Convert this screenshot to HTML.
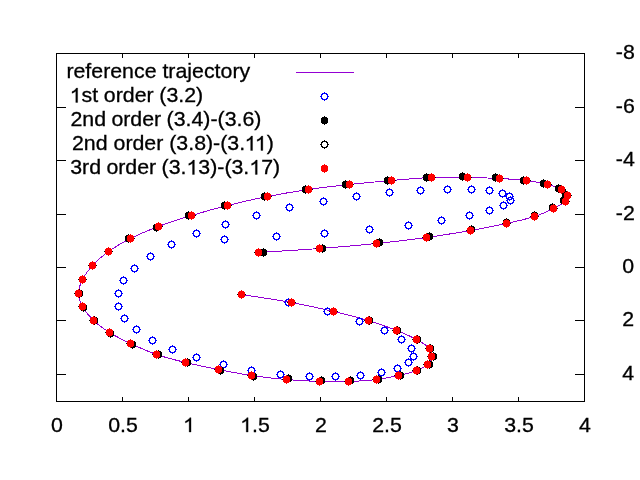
<!DOCTYPE html>
<html><head><meta charset="utf-8"><title>plot</title>
<style>html,body{margin:0;padding:0;background:#fff;overflow:hidden}svg{display:block;will-change:transform}text{font-family:"Liberation Sans",sans-serif;font-size:20.8px;fill:#000;stroke:#000;stroke-width:0.3px}.h{fill:none;stroke:none}</style>
</head><body>
<svg width="640" height="480" viewBox="0 0 640 480">
<defs>
<g id="f" shape-rendering="crispEdges"><rect x="-3" y="-2" width="7" height="5"/><rect x="-2" y="-3" width="5" height="7"/><rect x="0" y="-4" width="1" height="9"/></g>
<g id="o" shape-rendering="crispEdges"><rect x="0" y="-4" width="1" height="1"/><rect x="-2" y="-3" width="5" height="1"/><rect x="-3" y="-2" width="2" height="1"/><rect x="2" y="-2" width="2" height="1"/><rect x="-3" y="-1" width="1" height="1"/><rect x="3" y="-1" width="1" height="1"/><rect x="-4" y="0" width="2" height="1"/><rect x="3" y="0" width="2" height="1"/><rect x="-3" y="1" width="1" height="1"/><rect x="3" y="1" width="1" height="1"/><rect x="-3" y="2" width="2" height="1"/><rect x="2" y="2" width="2" height="1"/><rect x="-2" y="3" width="5" height="1"/><rect x="0" y="4" width="1" height="1"/></g>
</defs>
<rect x="0" y="0" width="640" height="480" fill="#fff"/>
<g fill="#000" shape-rendering="crispEdges">
<rect x="56" y="53" width="529" height="1"/>
<rect x="56" y="401" width="529" height="1"/>
<rect x="56" y="53" width="1" height="349"/>
<rect x="584" y="53" width="1" height="349"/>
<rect x="56" y="397" width="1" height="5"/>
<rect x="56" y="53" width="1" height="5"/>
<rect x="122" y="397" width="1" height="5"/>
<rect x="122" y="53" width="1" height="5"/>
<rect x="188" y="397" width="1" height="5"/>
<rect x="188" y="53" width="1" height="5"/>
<rect x="254" y="397" width="1" height="5"/>
<rect x="254" y="53" width="1" height="5"/>
<rect x="320" y="397" width="1" height="5"/>
<rect x="320" y="53" width="1" height="5"/>
<rect x="386" y="397" width="1" height="5"/>
<rect x="386" y="53" width="1" height="5"/>
<rect x="452" y="397" width="1" height="5"/>
<rect x="452" y="53" width="1" height="5"/>
<rect x="518" y="397" width="1" height="5"/>
<rect x="518" y="53" width="1" height="5"/>
<rect x="584" y="397" width="1" height="5"/>
<rect x="584" y="53" width="1" height="5"/>
<rect x="56" y="53" width="10" height="1"/>
<rect x="575" y="53" width="10" height="1"/>
<rect x="56" y="107" width="10" height="1"/>
<rect x="575" y="107" width="10" height="1"/>
<rect x="56" y="160" width="10" height="1"/>
<rect x="575" y="160" width="10" height="1"/>
<rect x="56" y="214" width="10" height="1"/>
<rect x="575" y="214" width="10" height="1"/>
<rect x="56" y="267" width="10" height="1"/>
<rect x="575" y="267" width="10" height="1"/>
<rect x="56" y="320" width="10" height="1"/>
<rect x="575" y="320" width="10" height="1"/>
<rect x="56" y="374" width="10" height="1"/>
<rect x="575" y="374" width="10" height="1"/>
</g>
<text class="t" transform="translate(57.0,431.8) scale(1.026,1)" text-anchor="middle">0</text>
<text class="t" transform="translate(123.0,431.8) scale(1.026,1)" text-anchor="middle">0.5</text>
<text class="t" transform="translate(189.0,431.8) scale(1.026,1)" text-anchor="middle"><tspan class="h">1</tspan></text>
<text class="t" transform="translate(255.0,431.8) scale(1.026,1)" text-anchor="middle"><tspan class="h">1</tspan>.5</text>
<text class="t" transform="translate(321.0,431.8) scale(1.026,1)" text-anchor="middle">2</text>
<text class="t" transform="translate(387.0,431.8) scale(1.026,1)" text-anchor="middle">2.5</text>
<text class="t" transform="translate(453.0,431.8) scale(1.026,1)" text-anchor="middle">3</text>
<text class="t" transform="translate(519.0,431.8) scale(1.026,1)" text-anchor="middle">3.5</text>
<text class="t" transform="translate(585.0,431.8) scale(1.026,1)" text-anchor="middle">4</text>
<text class="t" transform="translate(634.8,58.9) scale(1.026,1)" text-anchor="end">-8</text>
<text class="t" transform="translate(634.8,112.9) scale(1.026,1)" text-anchor="end">-6</text>
<text class="t" transform="translate(634.8,165.9) scale(1.026,1)" text-anchor="end">-4</text>
<text class="t" transform="translate(634.8,219.9) scale(1.026,1)" text-anchor="end">-2</text>
<text class="t" transform="translate(634.0,272.9) scale(1.026,1)" text-anchor="end">0</text>
<text class="t" transform="translate(634.0,325.9) scale(1.026,1)" text-anchor="end">2</text>
<text class="t" transform="translate(634.0,379.9) scale(1.026,1)" text-anchor="end">4</text>
<text class="t" style="word-spacing:0.00px" transform="translate(66.4,78.2) scale(1.026,1)">reference trajectory</text>
<text class="t" style="word-spacing:-0.25px" transform="translate(69.7,102.2) scale(1.026,1)"><tspan class="h">1</tspan>st order (3.2)</text>
<text class="t" style="word-spacing:-0.50px" transform="translate(70.4,126.2) scale(1.026,1)">2nd order (3.4)-(3.6)</text>
<text class="t" style="word-spacing:0.00px" transform="translate(72.0,150.2) scale(1.026,1)">2nd order (3.8)-(3.<tspan class="h" dx="-0.5">1</tspan><tspan class="h" dx="-1.55">1</tspan>)</text>
<text class="t" style="word-spacing:-0.55px" transform="translate(70.2,174.2) scale(1.026,1)">3rd order (3.<tspan class="h">1</tspan>3)-(3.<tspan class="h">1</tspan>7)</text>
<g fill="#000" stroke="#000" stroke-width="30">
<path transform="translate(183.07,432.05) scale(0.010420,-0.009814)" d="M763 0H583V1147Q518 1085 412.5 1023T223 930V1104Q373 1175 485.5 1275T645 1469H763Z"/>
<path transform="translate(240.16,432.05) scale(0.010420,-0.009814)" d="M763 0H583V1147Q518 1085 412.5 1023T223 930V1104Q373 1175 485.5 1275T645 1469H763Z"/>
<path transform="translate(69.70,102.45) scale(0.010420,-0.009814)" d="M763 0H583V1147Q518 1085 412.5 1023T223 930V1104Q373 1175 485.5 1275T645 1469H763Z"/>
<path transform="translate(244.59,150.45) scale(0.010420,-0.009814)" d="M763 0H583V1147Q518 1085 412.5 1023T223 930V1104Q373 1175 485.5 1275T645 1469H763Z"/>
<path transform="translate(254.87,150.45) scale(0.010420,-0.009814)" d="M763 0H583V1147Q518 1085 412.5 1023T223 930V1104Q373 1175 485.5 1275T645 1469H763Z"/>
<path transform="translate(186.44,174.45) scale(0.010420,-0.009814)" d="M763 0H583V1147Q518 1085 412.5 1023T223 930V1104Q373 1175 485.5 1275T645 1469H763Z"/>
<path transform="translate(249.28,174.45) scale(0.010420,-0.009814)" d="M763 0H583V1147Q518 1085 412.5 1023T223 930V1104Q373 1175 485.5 1275T645 1469H763Z"/>
</g>
<path d="M241.50 294.50 C249.83 295.83 276.17 299.67 291.50 302.50 C306.83 305.33 320.67 308.50 333.50 311.50 C346.33 314.50 358.00 317.33 368.50 320.50 C379.00 323.67 388.50 327.33 396.50 330.50 C404.50 333.67 411.00 336.50 416.50 339.50 C422.00 342.50 427.00 345.67 429.50 348.50 C432.00 351.33 431.83 353.83 431.50 356.50 C431.17 359.17 430.00 362.17 427.50 364.50 C425.00 366.83 421.33 368.67 416.50 370.50 C411.67 372.33 405.17 374.00 398.50 375.50 C391.83 377.00 384.83 378.50 376.50 379.50 C368.17 380.50 358.00 381.17 348.50 381.50 C339.00 381.83 329.83 381.83 319.50 381.50 C309.17 381.17 297.83 380.50 286.50 379.50 C275.17 378.50 262.83 377.17 251.50 375.50 C240.17 373.83 229.50 371.67 218.50 369.50 C207.50 367.33 195.83 365.00 185.50 362.50 C175.17 360.00 165.67 357.67 156.50 354.50 C147.33 351.33 138.33 347.17 130.50 343.50 C122.67 339.83 115.67 336.33 109.50 332.50 C103.33 328.67 98.00 324.83 93.50 320.50 C89.00 316.17 85.00 311.00 82.50 306.50 C80.00 302.00 78.50 298.00 78.50 293.50 C78.50 289.00 80.17 284.17 82.50 279.50 C84.83 274.83 88.17 270.17 92.50 265.50 C96.83 260.83 102.17 256.00 108.50 251.50 C114.83 247.00 122.17 242.67 130.50 238.50 C138.83 234.33 148.33 230.33 158.50 226.50 C168.67 222.67 180.00 219.00 191.50 215.50 C203.00 212.00 214.83 208.67 227.50 205.50 C240.17 202.33 254.00 199.17 267.50 196.50 C281.00 193.83 294.83 191.50 308.50 189.50 C322.17 187.50 335.67 186.00 349.50 184.50 C363.33 183.00 377.83 181.67 391.50 180.50 C405.17 179.33 418.83 178.00 431.50 177.50 C444.17 177.00 456.17 177.33 467.50 177.50 C478.83 177.67 489.67 178.00 499.50 178.50 C509.33 179.00 518.50 179.50 526.50 180.50 C534.50 181.50 541.67 183.00 547.50 184.50 C553.33 186.00 558.17 187.67 561.50 189.50 C564.83 191.33 566.83 193.50 567.50 195.50 C568.17 197.50 567.83 199.33 565.50 201.50 C563.17 203.67 558.67 206.00 553.50 208.50 C548.33 211.00 542.33 214.00 534.50 216.50 C526.67 219.00 517.17 221.17 506.50 223.50 C495.83 225.83 483.83 228.17 470.50 230.50 C457.17 232.83 442.17 235.33 426.50 237.50 C410.83 239.67 394.33 241.67 376.50 243.50 C358.67 245.33 339.17 247.00 319.50 248.50 C299.83 250.00 268.67 251.83 258.50 252.50" fill="none" stroke="#9400d3" stroke-width="1" shape-rendering="crispEdges"/>
<rect x="296" y="72" width="58" height="1" fill="#9400d3" shape-rendering="crispEdges"/>
<g fill="#0000ff">
<use href="#o" x="241" y="294"/>
<use href="#o" x="288" y="302"/>
<use href="#o" x="327" y="311"/>
<use href="#o" x="359" y="321"/>
<use href="#o" x="384" y="330"/>
<use href="#o" x="401" y="339"/>
<use href="#o" x="411" y="348"/>
<use href="#o" x="413" y="356"/>
<use href="#o" x="408" y="362"/>
<use href="#o" x="397" y="368"/>
<use href="#o" x="381" y="372"/>
<use href="#o" x="360" y="375"/>
<use href="#o" x="335" y="376"/>
<use href="#o" x="309" y="376"/>
<use href="#o" x="280" y="374"/>
<use href="#o" x="251" y="370"/>
<use href="#o" x="223" y="364"/>
<use href="#o" x="196" y="357"/>
<use href="#o" x="172" y="349"/>
<use href="#o" x="152" y="340"/>
<use href="#o" x="136" y="329"/>
<use href="#o" x="124" y="318"/>
<use href="#o" x="118" y="306"/>
<use href="#o" x="118" y="293"/>
<use href="#o" x="123" y="280"/>
<use href="#o" x="134" y="268"/>
<use href="#o" x="150" y="256"/>
<use href="#o" x="171" y="244"/>
<use href="#o" x="196" y="233"/>
<use href="#o" x="225" y="224"/>
<use href="#o" x="256" y="215"/>
<use href="#o" x="289" y="207"/>
<use href="#o" x="323" y="201"/>
<use href="#o" x="356" y="196"/>
<use href="#o" x="389" y="192"/>
<use href="#o" x="420" y="190"/>
<use href="#o" x="447" y="189"/>
<use href="#o" x="471" y="189"/>
<use href="#o" x="489" y="190"/>
<use href="#o" x="502" y="193"/>
<use href="#o" x="509" y="196"/>
<use href="#o" x="510" y="200"/>
<use href="#o" x="503" y="205"/>
<use href="#o" x="489" y="210"/>
<use href="#o" x="469" y="215"/>
<use href="#o" x="441" y="220"/>
<use href="#o" x="408" y="225"/>
<use href="#o" x="369" y="229"/>
<use href="#o" x="324" y="233"/>
<use href="#o" x="276" y="236"/>
<use href="#o" x="224" y="239"/>
<use href="#o" x="324" y="96"/>
</g>
<g fill="#000">
<use href="#f" x="241" y="294"/>
<use href="#f" x="291" y="302"/>
<use href="#f" x="333" y="311"/>
<use href="#f" x="369" y="320"/>
<use href="#f" x="397" y="330"/>
<use href="#f" x="417" y="339"/>
<use href="#f" x="430" y="348"/>
<use href="#f" x="433" y="356"/>
<use href="#f" x="429" y="364"/>
<use href="#f" x="417" y="370"/>
<use href="#f" x="400" y="375"/>
<use href="#f" x="378" y="379"/>
<use href="#f" x="350" y="380"/>
<use href="#f" x="321" y="380"/>
<use href="#f" x="288" y="378"/>
<use href="#f" x="253" y="376"/>
<use href="#f" x="220" y="370"/>
<use href="#f" x="187" y="362"/>
<use href="#f" x="158" y="354"/>
<use href="#f" x="132" y="344"/>
<use href="#f" x="110" y="333"/>
<use href="#f" x="94" y="320"/>
<use href="#f" x="83" y="307"/>
<use href="#f" x="79" y="293"/>
<use href="#f" x="82" y="279"/>
<use href="#f" x="92" y="265"/>
<use href="#f" x="108" y="251"/>
<use href="#f" x="128" y="238"/>
<use href="#f" x="156" y="227"/>
<use href="#f" x="188" y="215"/>
<use href="#f" x="224" y="205"/>
<use href="#f" x="264" y="196"/>
<use href="#f" x="305" y="189"/>
<use href="#f" x="345" y="184"/>
<use href="#f" x="387" y="180"/>
<use href="#f" x="426" y="177"/>
<use href="#f" x="462" y="176"/>
<use href="#f" x="495" y="177"/>
<use href="#f" x="523" y="180"/>
<use href="#f" x="543" y="183"/>
<use href="#f" x="558" y="188"/>
<use href="#f" x="565" y="194"/>
<use href="#f" x="563" y="200"/>
<use href="#f" x="552" y="207"/>
<use href="#f" x="534" y="215"/>
<use href="#f" x="506" y="222"/>
<use href="#f" x="471" y="229"/>
<use href="#f" x="429" y="236"/>
<use href="#f" x="379" y="242"/>
<use href="#f" x="322" y="248"/>
<use href="#f" x="263" y="252"/>
<use href="#f" x="324" y="120"/>
</g>
<g fill="#000">
<use href="#o" x="241" y="294"/>
<use href="#o" x="291" y="302"/>
<use href="#o" x="333" y="311"/>
<use href="#o" x="368" y="320"/>
<use href="#o" x="396" y="330"/>
<use href="#o" x="416" y="339"/>
<use href="#o" x="429" y="348"/>
<use href="#o" x="431" y="356"/>
<use href="#o" x="427" y="364"/>
<use href="#o" x="416" y="370"/>
<use href="#o" x="398" y="375"/>
<use href="#o" x="376" y="379"/>
<use href="#o" x="348" y="381"/>
<use href="#o" x="319" y="381"/>
<use href="#o" x="286" y="379"/>
<use href="#o" x="251" y="375"/>
<use href="#o" x="218" y="369"/>
<use href="#o" x="185" y="362"/>
<use href="#o" x="156" y="354"/>
<use href="#o" x="130" y="343"/>
<use href="#o" x="109" y="332"/>
<use href="#o" x="93" y="320"/>
<use href="#o" x="82" y="306"/>
<use href="#o" x="78" y="293"/>
<use href="#o" x="82" y="279"/>
<use href="#o" x="92" y="265"/>
<use href="#o" x="108" y="251"/>
<use href="#o" x="130" y="238"/>
<use href="#o" x="158" y="226"/>
<use href="#o" x="191" y="215"/>
<use href="#o" x="227" y="205"/>
<use href="#o" x="267" y="196"/>
<use href="#o" x="308" y="189"/>
<use href="#o" x="349" y="184"/>
<use href="#o" x="391" y="180"/>
<use href="#o" x="431" y="177"/>
<use href="#o" x="467" y="177"/>
<use href="#o" x="499" y="178"/>
<use href="#o" x="526" y="180"/>
<use href="#o" x="547" y="184"/>
<use href="#o" x="561" y="189"/>
<use href="#o" x="567" y="195"/>
<use href="#o" x="565" y="201"/>
<use href="#o" x="553" y="208"/>
<use href="#o" x="534" y="216"/>
<use href="#o" x="506" y="223"/>
<use href="#o" x="470" y="230"/>
<use href="#o" x="426" y="237"/>
<use href="#o" x="376" y="243"/>
<use href="#o" x="319" y="248"/>
<use href="#o" x="258" y="252"/>
<use href="#o" x="324" y="144"/>
</g>
<g fill="#ff0000">
<use href="#f" x="241" y="294"/>
<use href="#f" x="291" y="302"/>
<use href="#f" x="333" y="311"/>
<use href="#f" x="368" y="320"/>
<use href="#f" x="396" y="330"/>
<use href="#f" x="416" y="339"/>
<use href="#f" x="429" y="348"/>
<use href="#f" x="431" y="356"/>
<use href="#f" x="427" y="364"/>
<use href="#f" x="416" y="370"/>
<use href="#f" x="398" y="375"/>
<use href="#f" x="376" y="379"/>
<use href="#f" x="348" y="381"/>
<use href="#f" x="319" y="381"/>
<use href="#f" x="286" y="379"/>
<use href="#f" x="251" y="375"/>
<use href="#f" x="218" y="369"/>
<use href="#f" x="185" y="362"/>
<use href="#f" x="156" y="354"/>
<use href="#f" x="130" y="343"/>
<use href="#f" x="109" y="332"/>
<use href="#f" x="93" y="320"/>
<use href="#f" x="82" y="306"/>
<use href="#f" x="78" y="293"/>
<use href="#f" x="82" y="279"/>
<use href="#f" x="92" y="265"/>
<use href="#f" x="108" y="251"/>
<use href="#f" x="130" y="238"/>
<use href="#f" x="158" y="226"/>
<use href="#f" x="191" y="215"/>
<use href="#f" x="227" y="205"/>
<use href="#f" x="267" y="196"/>
<use href="#f" x="308" y="189"/>
<use href="#f" x="349" y="184"/>
<use href="#f" x="391" y="180"/>
<use href="#f" x="431" y="177"/>
<use href="#f" x="467" y="177"/>
<use href="#f" x="499" y="178"/>
<use href="#f" x="526" y="180"/>
<use href="#f" x="547" y="184"/>
<use href="#f" x="561" y="189"/>
<use href="#f" x="567" y="195"/>
<use href="#f" x="565" y="201"/>
<use href="#f" x="553" y="208"/>
<use href="#f" x="534" y="216"/>
<use href="#f" x="506" y="223"/>
<use href="#f" x="470" y="230"/>
<use href="#f" x="426" y="237"/>
<use href="#f" x="376" y="243"/>
<use href="#f" x="319" y="248"/>
<use href="#f" x="258" y="252"/>
<use href="#f" x="324" y="168"/>
</g>
</svg></body></html>
